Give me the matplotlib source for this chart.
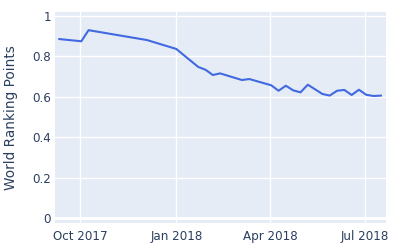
import matplotlib
matplotlib.use("Agg")
import matplotlib.pyplot as plt
import matplotlib.dates as mdates
import pandas as pd

dates = ["2017-09-11", "2017-10-02", "2017-10-09", "2017-12-04", "2018-01-01",
         "2018-01-22", "2018-01-29", "2018-02-05", "2018-02-12", "2018-03-05",
         "2018-03-12", "2018-04-02", "2018-04-09", "2018-04-16", "2018-04-23",
         "2018-04-30", "2018-05-07", "2018-05-21", "2018-05-28", "2018-06-04",
         "2018-06-11", "2018-06-18", "2018-06-25", "2018-07-02", "2018-07-09",
         "2018-07-16"]
points = [0.886, 0.875, 0.930, 0.881, 0.837,
          0.748, 0.734, 0.708, 0.716, 0.683,
          0.688, 0.657, 0.630, 0.655, 0.632,
          0.622, 0.660, 0.614, 0.606, 0.630,
          0.634, 0.609, 0.635, 0.610, 0.604,
          0.606]
xticks = ["2017-10-01", "2018-01-01", "2018-04-01", "2018-07-01"]
xticklabels = ["Oct 2017", "Jan 2018", "Apr 2018", "Jul 2018"]
yticks = [0, 0.2, 0.4, 0.6, 0.8, 1]
yticklabels = ["0", "0.2", "0.4", "0.6", "0.8", "1"]

txt = "#2a3f5f"
fig = plt.figure(figsize=(4, 2.5), dpi=100)
ax = fig.add_axes([55/400, 1-223/250, (386-55)/400, (223-12)/250])
ax.set_facecolor("#E5ECF6")
x = pd.to_datetime(dates)
ax.plot(x, points, color="#4169E1", lw=1.5, zorder=3)
ax.set_xlim(pd.Timestamp("2017-09-06 20:00"), pd.Timestamp("2018-07-20 22:00"))
ax.set_ylim(-0.025, 1.02)
ax.set_xticks(pd.to_datetime(xticks))
ax.set_xticklabels(xticklabels)
ax.set_yticks(yticks)
ax.set_yticklabels(yticklabels)
ax.grid(True, color="white", lw=1)
ax.axhline(0, color="white", lw=2, zorder=2)
ax.set_axisbelow(True)
for s in ax.spines.values():
    s.set_visible(False)
ax.tick_params(length=0, colors=txt, labelsize=8.6)
ax.tick_params(axis="y", pad=3)
ax.tick_params(axis="x", pad=5)
ax.set_ylabel("World Ranking Points", color=txt, fontsize=9.8, labelpad=10)
fig.savefig("out.png", dpi=100)
